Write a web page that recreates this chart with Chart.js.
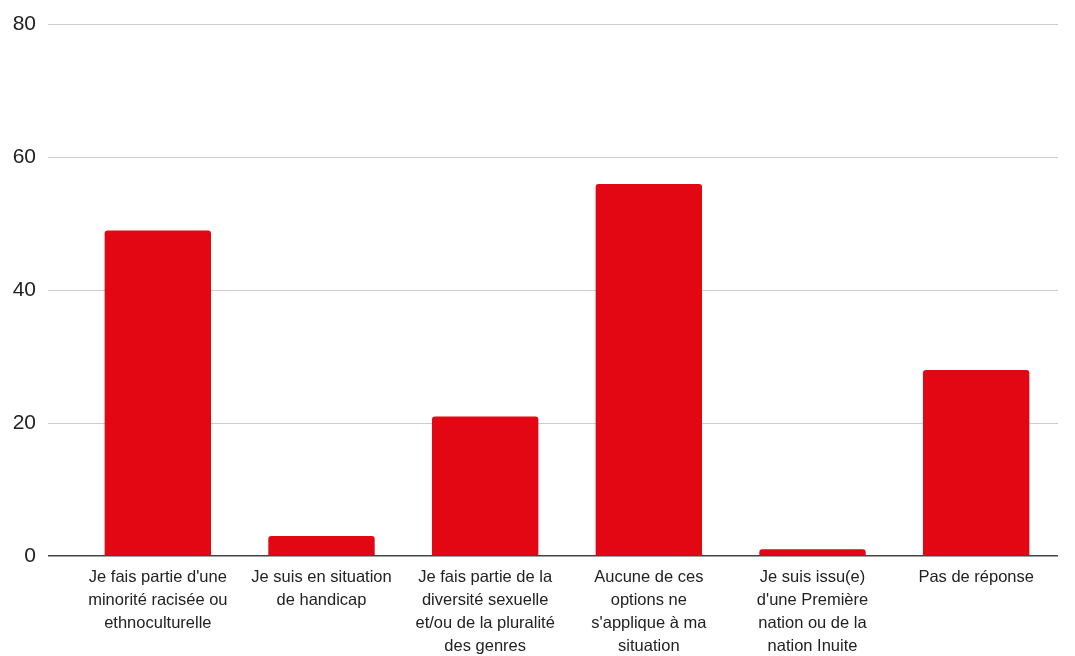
<!DOCTYPE html>
<html>
<head>
<meta charset="utf-8">
<script src="https://cdn.jsdelivr.net/npm/chart.js@4/dist/chart.umd.min.js"></script>
<style>
  html, body { margin: 0; padding: 0; background: #fff; }
  .wrap { width: 1075px; height: 656px; }
</style>
</head>
<body>
<div class="wrap"><canvas id="chart"></canvas></div>
<script>
const categories = [
  ["Je fais partie d'une", "minorité racisée ou", "ethnoculturelle"],
  ["Je suis en situation", "de handicap"],
  ["Je fais partie de la", "diversité sexuelle", "et/ou de la pluralité", "des genres"],
  ["Aucune de ces", "options ne", "s'applique à ma", "situation"],
  ["Je suis issu(e)", "d'une Première", "nation ou de la", "nation Inuite"],
  ["Pas de réponse"]
];
const counts = [49, 3, 21, 56, 1, 28];
const yTicks = [0, 20, 40, 60, 80];

Chart.defaults.font.family = "'Liberation Sans', Arial, sans-serif";
Chart.defaults.color = "#222";

const ctx = document.getElementById("chart");

new Chart(ctx, {
  type: "bar",
  data: {
    labels: categories,
    datasets: [
      {
        data: counts,
        backgroundColor: "#e30613",
        borderRadius: { topLeft: 3, topRight: 3, bottomLeft: 0, bottomRight: 0 },
        borderSkipped: "bottom",
        barPercentage: 0.65,
        categoryPercentage: 1,
      },
    ],
  },
  options: {
    responsive: true,
    maintainAspectRatio: false,
    animation: false,
    layout: { padding: { top: 12, right: 17, left: 0, bottom: 0 } },
    plugins: {
      legend: { display: false },
      tooltip: { enabled: false },
    },
    scales: {
      x: {
        grid: { display: false, drawTicks: false },
        border: { display: false },
        ticks: {
          font: { size: 16.5, lineHeight: 1.39 },
          color: "#222",
          padding: 10,
          maxRotation: 0,
          autoSkip: false,
        },
        afterFit: (scale) => { scale.height = 100; },
      },
      y: {
        min: 0,
        max: 80,
        afterBuildTicks: (scale) => {
          scale.ticks = yTicks.map((v) => ({ value: v }));
        },
        grid: {
          color: (c) => (c.tick && c.tick.value === 0 ? "#444" : "#ccc"),
          lineWidth: (c) => (c.tick && c.tick.value === 0 ? 1.5 : 1),
          tickLength: 28,
          tickColor: (c) => (c.tick && c.tick.value === 0 ? "#444" : "#ccc"),
        },
        border: { display: false },
        ticks: {
          font: { size: 21 },
          color: "#222",
          padding: 12,
        },
        afterFit: (scale) => { scale.width = 76; },
      },
    },
  },
});
</script>
</body>
</html>
